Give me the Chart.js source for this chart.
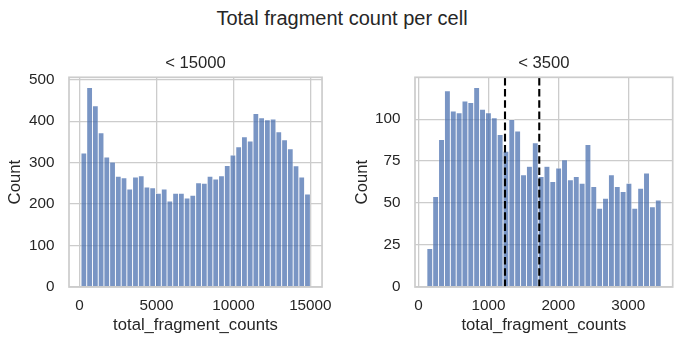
<!DOCTYPE html>
<html>
<head>
<meta charset="utf-8">
<script src="https://cdn.jsdelivr.net/npm/chart.js@4.4.1/dist/chart.umd.min.js"></script>
<style>
  html, body { margin: 0; padding: 0; background: #ffffff; }
  #fig { position: relative; width: 684px; height: 345px; overflow: hidden; background: #ffffff; }
  #suptitle {
    position: absolute; left: 0; top: 8px; width: 684px; text-align: center;
    font-family: 'Liberation Sans', Arial, sans-serif; font-size: 20px; line-height: 20px;
    color: #262626; white-space: nowrap;
  }
  canvas { position: absolute; top: 0; }
</style>
</head>
<body>
<div id="fig">
  <div id="suptitle">Total fragment count per cell</div>
  <canvas id="panelAll" width="342" height="345" style="left:0px"></canvas>
  <canvas id="panelLow" width="342" height="345" style="left:342px"></canvas>
</div>
<script>
// ---- Data -------------------------------------------------------------
// Cells with fewer than 15000 fragments: 40 equal-width bins
const allBinStart = 100;
const allBinWidth = 372.5;
const allCounts = [
  324, 482, 438, 373, 314, 302, 268, 264, 237, 266,
  269, 242, 240, 227, 237, 208, 227, 227, 215, 222,
  252, 251, 268, 261, 269, 294, 319, 339, 363, 353,
  419, 409, 404, 406, 375, 356, 334, 293, 266, 225
];
const allXTicks = [0, 5000, 10000, 15000];
const allYTicks = [0, 100, 200, 300, 400, 500];

// Cells with fewer than 3500 fragments: 40 equal-width bins
const lowBinStart = 120;
const lowBinWidth = 83.75;
const lowCounts = [
  23, 54, 88, 117, 105, 104, 111, 110, 119, 106,
  104, 101, 91, 81, 100, 93, 67, 72, 86, 66,
  72, 63, 71, 76, 64, 66, 62, 85, 60, 47,
  53, 67, 60, 57, 62, 47, 59, 68, 48, 52
];
const lowXTicks = [0, 1000, 2000, 3000];
const lowYTicks = [0, 25, 50, 75, 100];
// Threshold markers drawn as dashed vertical lines
const lowCutoffs = [1237, 1727];

// ---- Styling ------------------------------------------------------------
const TEXT = '#262626';
const GRID = '#cccccc';
const FONT = "'Liberation Sans', Arial, sans-serif";
Chart.defaults.font.family = FONT;
Chart.defaults.color = TEXT;

function toPoints(start, width, counts) {
  return counts.map((c, i) => ({ x: start + (i + 0.5) * width, y: c }));
}

// Light axes frame plus optional dashed vertical markers
const framePlugin = {
  id: 'frame',
  afterDatasetsDraw(chart, args, opts) {
    const { ctx, chartArea: a } = chart;
    const xs = chart.scales.x;
    ctx.save();
    (opts.markers || []).forEach(v => {
      const px = xs.getPixelForValue(v);
      ctx.beginPath();
      ctx.setLineDash([7.6, 3.6]);
      ctx.lineWidth = 2.1;
      ctx.strokeStyle = '#000000';
      ctx.moveTo(px, a.bottom);
      ctx.lineTo(px, a.top);
      ctx.stroke();
    });
    ctx.setLineDash([]);
    ctx.strokeStyle = GRID;
    ctx.lineWidth = 1.7;
    ctx.strokeRect(a.left, a.top, a.right - a.left, a.bottom - a.top);
    ctx.restore();
  }
};

function makePanel(id, cfg) {
  const yMax = Math.max(...cfg.counts) * 1.05;
  return new Chart(document.getElementById(id), {
    type: 'bar',
    data: {
      datasets: [{
        data: toPoints(cfg.binStart, cfg.binWidth, cfg.counts),
        backgroundColor: 'rgba(76,114,176,0.75)',
        borderColor: 'rgba(255,255,255,0.8)',
        borderWidth: { left: 0.45, right: 0.45, top: 0.7, bottom: 0 },
        borderSkipped: 'bottom',
        inflateAmount: 0,
        barPercentage: 1,
        categoryPercentage: 1
      }]
    },
    options: {
      responsive: false,
      animation: false,
      devicePixelRatio: 1,
      events: [],
      layout: { padding: { left: 0, right: cfg.padRight, top: 0, bottom: 0 } },
      plugins: {
        legend: { display: false },
        tooltip: { enabled: false },
        title: {
          display: true,
          text: cfg.title,
          fullSize: false,
          color: TEXT,
          font: { size: 16.67, weight: 'normal', family: FONT },
          padding: { top: 53.5, bottom: 3.8 }
        },
        frame: { markers: cfg.markers || [] }
      },
      scales: {
        x: {
          type: 'linear',
          min: cfg.xMin,
          max: cfg.xMax,
          offset: false,
          afterBuildTicks: s => { s.ticks = cfg.xTicks.map(v => ({ value: v })); },
          afterFit: s => { s.height = 58; },
          ticks: {
            callback: v => String(v),
            font: { size: 15.28, family: FONT },
            color: TEXT,
            padding: 9.5,
            maxRotation: 0,
            autoSkip: false
          },
          grid: { color: GRID, lineWidth: 1.3, drawTicks: false, offset: false },
          border: { display: false },
          title: {
            display: true,
            text: 'total_fragment_counts',
            color: TEXT,
            font: { size: 16.67, family: FONT },
            padding: { top: 0, bottom: 9.1 }
          }
        },
        y: {
          type: 'linear',
          min: 0,
          max: yMax,
          afterBuildTicks: s => { s.ticks = cfg.yTicks.map(v => ({ value: v })); },
          afterFit: s => { s.width = cfg.yWidth; },
          ticks: {
            callback: v => String(v),
            font: { size: 15.28, family: FONT },
            color: TEXT,
            padding: 14.5,
            autoSkip: false
          },
          grid: { color: GRID, lineWidth: 1.3, drawTicks: false },
          border: { display: false },
          title: {
            display: true,
            text: 'Count',
            color: TEXT,
            font: { size: 16.67, family: FONT },
            padding: { top: cfg.yTitlePad, bottom: 0 }
          }
        }
      }
    },
    plugins: [framePlugin]
  });
}

makePanel('panelAll', {
  title: '< 15000',
  binStart: allBinStart, binWidth: allBinWidth, counts: allCounts,
  xTicks: allXTicks, yTicks: allYTicks,
  xMin: -680, xMax: 15760,
  yWidth: 69, padRight: 13.7, yTitlePad: 5.5
});

makePanel('panelLow', {
  title: '< 3500',
  binStart: lowBinStart, binWidth: lowBinWidth, counts: lowCounts,
  xTicks: lowXTicks, yTicks: lowYTicks,
  xMin: -50, xMax: 3635,
  yWidth: 73, padRight: 11.3, yTitlePad: 10,
  markers: lowCutoffs
});
</script>
</body>
</html>
